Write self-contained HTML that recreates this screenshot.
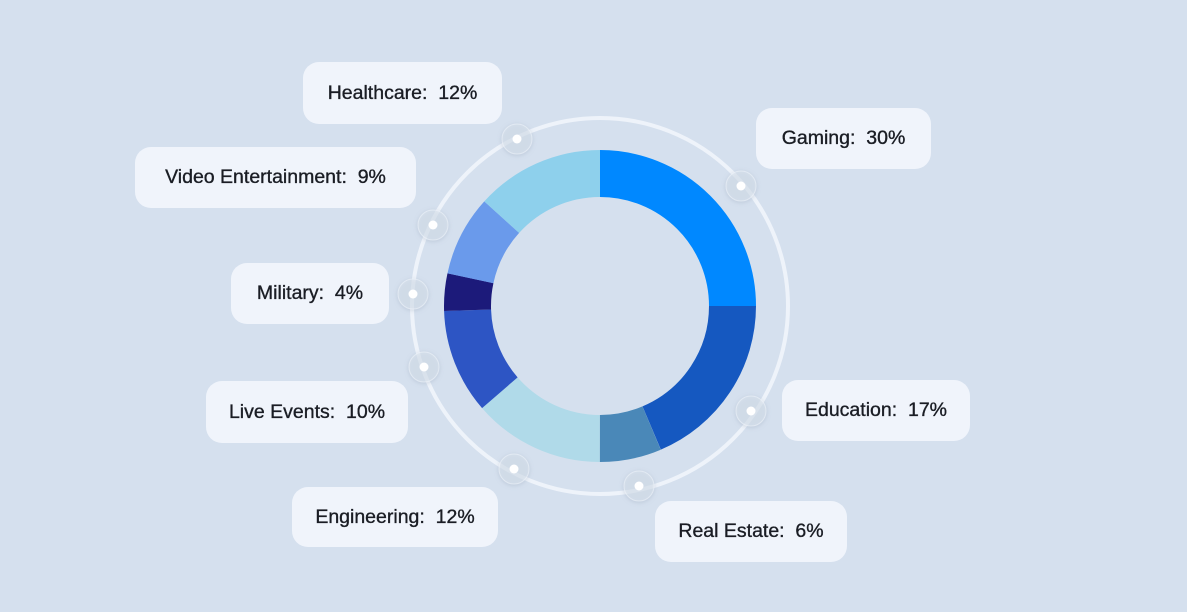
<!DOCTYPE html>
<html><head><style>
body{margin:0;width:1187px;height:612px;background:#d5e0ee;position:relative;overflow:hidden;font-family:"Liberation Sans",sans-serif}
.l{position:absolute;background:#f0f4fb;border-radius:16px;display:flex;align-items:center;justify-content:center;font-size:19.5px;color:#1a1d24;-webkit-text-stroke:0.35px #1a1d24;white-space:pre}
</style></head><body>
<svg width="1187" height="612" style="position:absolute;left:0;top:0">
<defs><filter id="s" x="-50%" y="-50%" width="200%" height="200%"><feDropShadow dx="0" dy="1" stdDeviation="2" flood-color="#8090a8" flood-opacity="0.5"/></filter></defs>
<circle cx="600" cy="306" r="188" fill="none" stroke="#eef3fa" stroke-width="4"/>
<g transform="rotate(-90 600 306)" fill="none" stroke-width="47">
<circle cx="600" cy="306" r="132.5" stroke="#0088ff" stroke-dasharray="208.1 832.5" stroke-dashoffset="0"/>
<circle cx="600" cy="306" r="132.5" stroke="#1558c0" stroke-dasharray="154.9 832.5" stroke-dashoffset="-208.1"/>
<circle cx="600" cy="306" r="132.5" stroke="#4a88b8" stroke-dasharray="53.2 832.5" stroke-dashoffset="-363.1"/>
<circle cx="600" cy="306" r="132.5" stroke="#b0dae9" stroke-dasharray="113.3 832.5" stroke-dashoffset="-416.3"/>
<circle cx="600" cy="306" r="132.5" stroke="#2d55c4" stroke-dasharray="90.2 832.5" stroke-dashoffset="-529.6"/>
<circle cx="600" cy="306" r="132.5" stroke="#1c1a7a" stroke-dasharray="32.4 832.5" stroke-dashoffset="-619.8"/>
<circle cx="600" cy="306" r="132.5" stroke="#6a9aeb" stroke-dasharray="69.4 832.5" stroke-dashoffset="-652.1"/>
<circle cx="600" cy="306" r="132.5" stroke="#8ed0ec" stroke-dasharray="111 832.5" stroke-dashoffset="-721.5"/>
</g>
<g>
<g filter="url(#s)" fill="#dce5f0" fill-opacity="0.5" stroke="#eef3fa" stroke-opacity="0.6">
<circle cx="517" cy="139" r="15"/><circle cx="741" cy="186" r="15"/><circle cx="433" cy="225" r="15"/><circle cx="413" cy="294" r="15"/><circle cx="424" cy="367" r="15"/><circle cx="514" cy="469" r="15"/><circle cx="639" cy="486" r="15"/><circle cx="751" cy="411" r="15"/>
</g>
<g fill="#fff">
<circle cx="517" cy="139" r="4.5"/><circle cx="741" cy="186" r="4.5"/><circle cx="433" cy="225" r="4.5"/><circle cx="413" cy="294" r="4.5"/><circle cx="424" cy="367" r="4.5"/><circle cx="514" cy="469" r="4.5"/><circle cx="639" cy="486" r="4.5"/><circle cx="751" cy="411" r="4.5"/>
</g></g>
</svg>
<div class="l" style="left:303px;top:62px;width:199px;height:62px">Healthcare:  12%</div>
<div class="l" style="left:756px;top:108px;width:175px;height:61px">Gaming:  30%</div>
<div class="l" style="left:135px;top:147px;width:281px;height:61px">Video Entertainment:  9%</div>
<div class="l" style="left:231px;top:263px;width:158px;height:61px">Military:  4%</div>
<div class="l" style="left:206px;top:381px;width:202px;height:62px">Live Events:  10%</div>
<div class="l" style="left:782px;top:380px;width:188px;height:61px">Education:  17%</div>
<div class="l" style="left:292px;top:487px;width:206px;height:60px">Engineering:  12%</div>
<div class="l" style="left:655px;top:501px;width:192px;height:61px">Real Estate:  6%</div>
</body></html>
